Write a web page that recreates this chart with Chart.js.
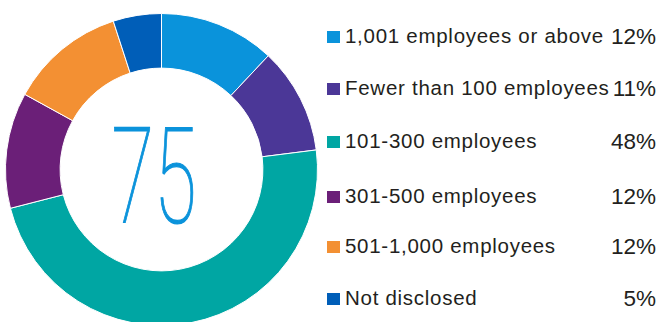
<!DOCTYPE html>
<html>
<head>
<meta charset="utf-8">
<script src="https://cdn.jsdelivr.net/npm/chart.js@4"></script>
<style>
  html, body { margin: 0; padding: 0; background: #fff; width: 661px; height: 322px; overflow: hidden; }
  #ring { position: absolute; left: 5px; top: 13px; width: 313px; height: 313px; }
  #total {
    position: absolute; left: 153.5px; top: 178px;
    transform: translate(-50%, -50%) scaleX(0.58);
    font-family: Roboto, "Liberation Sans", sans-serif; font-weight: 100;
    -webkit-text-stroke: 1.2px #0b93db;
    font-size: 134px; line-height: 1; color: #0b93db; white-space: nowrap;
  }
  .row { position: absolute; left: 327px; width: 329px; height: 24px;
         font-family: "Liberation Sans", Arial, sans-serif; color: #231f20; }
  .sw { position: absolute; left: 0; top: 6px; width: 13px; height: 12px; }
  .lab { position: absolute; left: 18px; top: 0px; font-size: 20.5px; line-height: 22px;
         letter-spacing: 0.72px; white-space: nowrap; }
  .pct { position: absolute; right: 0; top: 0; font-size: 22.5px; line-height: 24px; white-space: nowrap; }
</style>
</head>
<body>
<div id="ring"><canvas id="sizeChart"></canvas></div>
<div id="total">75</div>
<div id="legend"></div>
<script>
const categories = ['1,001 employees or above', 'Fewer than 100 employees', '101-300 employees',
                    '301-500 employees', '501-1,000 employees', 'Not disclosed'];
const shares = [12, 11, 48, 12, 12, 5];
const colours = ['#0a93db', '#4b3797', '#00a6a3', '#6b1f78', '#f39033', '#005eb8'];
const totalCompanies = 75;

document.getElementById('total').textContent = totalCompanies;

// legend rows, right-aligned percentages
const rowTops = [25, 77, 130, 185, 235, 287];
const legend = document.getElementById('legend');
categories.forEach((name, i) => {
    const row = document.createElement('div');
    row.className = 'row';
    row.style.top = rowTops[i] + 'px';
    row.innerHTML = '<span class="sw" style="background:' + colours[i] + '"></span>' +
        '<span class="lab">' + name + '</span>' +
        '<span class="pct">' + shares[i] + '%</span>';
    legend.appendChild(row);
});

new Chart(document.getElementById('sizeChart'), {
    type: 'doughnut',
    data: {
        labels: categories,
        datasets: [{
            data: shares,
            backgroundColor: colours,
            borderColor: '#ffffff',
            borderWidth: 1,
        }],
    },
    options: {
        responsive: true,
        maintainAspectRatio: false,
        animation: false,
        cutout: '65%',
        layout: { padding: 0 },
        plugins: {
            legend: { display: false },
            tooltip: { enabled: false },
        },
    },
});
</script>
</body>
</html>
